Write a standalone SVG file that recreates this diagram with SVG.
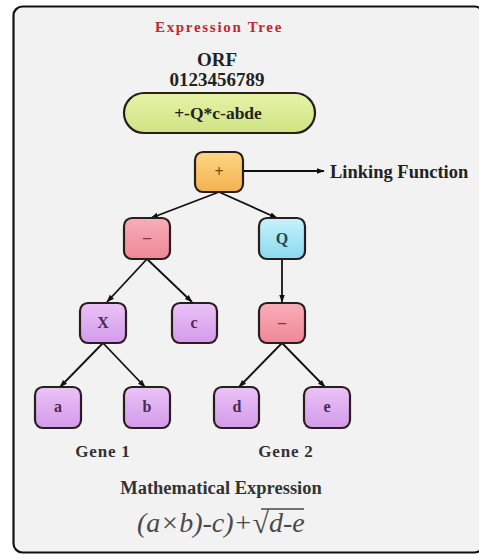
<svg xmlns="http://www.w3.org/2000/svg" width="479" height="560" viewBox="0 0 479 560">
<defs>
<linearGradient id="gOr" x1="0" y1="0" x2="0" y2="1"><stop offset="0" stop-color="#fcd685"/><stop offset="1" stop-color="#f4b24e"/></linearGradient>
<linearGradient id="gPk" x1="0" y1="0" x2="0" y2="1"><stop offset="0" stop-color="#f8aeb8"/><stop offset="1" stop-color="#ef8797"/></linearGradient>
<linearGradient id="gBl" x1="0" y1="0" x2="0" y2="1"><stop offset="0" stop-color="#c6f3fc"/><stop offset="1" stop-color="#8ad9ee"/></linearGradient>
<linearGradient id="gPu" x1="0" y1="0" x2="0" y2="1"><stop offset="0" stop-color="#ebc3f8"/><stop offset="1" stop-color="#d39ae9"/></linearGradient>
<linearGradient id="gGr" x1="0" y1="0" x2="0" y2="1"><stop offset="0" stop-color="#e6f3a8"/><stop offset="1" stop-color="#cfe383"/></linearGradient>
<marker id="arr" viewBox="0 0 10 10" refX="9" refY="5" markerWidth="8" markerHeight="8" markerUnits="userSpaceOnUse" orient="auto"><path d="M0,1.5 L10,5 L0,8.5 Z" fill="#111"/></marker>
</defs>
<style>
.t{font-family:"Liberation Serif","Times New Roman",serif;font-weight:bold;text-anchor:middle;fill:#222}
.n{stroke:#2b1d1d;stroke-width:2.2}
.nt{font-family:"Liberation Serif","Times New Roman",serif;font-weight:bold;font-size:16px;text-anchor:middle;fill:#4a2a55}
.c{stroke:#111;stroke-width:1.8;fill:none;marker-end:url(#arr)}
.f{font-family:"Liberation Serif","Times New Roman",serif;font-style:italic;font-size:28px;fill:#4a4a4a}
</style>
<rect width="479" height="560" fill="#ffffff"/>
<rect x="13.5" y="6.5" width="470" height="546" rx="9" fill="#f2f2f2" stroke="#111" stroke-width="2.2"/>
<text class="t" x="219" y="32" font-size="15" letter-spacing="1.7" style="fill:#c3272e">Expression Tree</text>
<text class="t" x="217" y="66" font-size="19">ORF</text>
<text class="t" x="217" y="86" font-size="19">0123456789</text>
<g id="orf"><rect x="124" y="93" width="191" height="40" rx="20" fill="url(#gGr)" class="n"/><text class="t" x="218" y="119" font-size="17.5">+-Q*c-abde</text></g>
<g id="connectors">
<line class="c" x1="243" y1="171" x2="324" y2="171"/>
<line class="c" x1="219" y1="192" x2="151" y2="218"/>
<line class="c" x1="219" y1="192" x2="277" y2="218"/>
<line class="c" x1="147" y1="259" x2="107" y2="302"/>
<line class="c" x1="147" y1="259" x2="192" y2="302"/>
<line class="c" x1="282" y1="259" x2="282" y2="302"/>
<line class="c" x1="103" y1="343" x2="60" y2="387"/>
<line class="c" x1="103" y1="343" x2="145" y2="387"/>
<line class="c" x1="282" y1="343" x2="239" y2="387"/>
<line class="c" x1="282" y1="343" x2="325" y2="387"/>
</g>
<g id="plus"><rect x="195" y="152" width="48" height="40" rx="8" fill="url(#gOr)" class="n"/><text class="nt" x="219" y="177" style="fill:#6a4a10">+</text></g>
<text class="t" x="330" y="178" font-size="18.5" style="text-anchor:start">Linking Function</text>
<g id="minus1"><rect x="124" y="218" width="46" height="41" rx="8" fill="url(#gPk)" class="n"/><text class="nt" x="147" y="243" style="fill:#7a3a40">–</text></g>
<g id="q"><rect x="259" y="218" width="46" height="41" rx="8" fill="url(#gBl)" class="n"/><text class="nt" x="282" y="244" style="fill:#1d4a55">Q</text></g>
<g id="x"><rect x="80" y="303" width="46" height="40" rx="8" fill="url(#gPu)" class="n"/><text class="nt" x="103" y="328">X</text></g>
<g id="c"><rect x="172" y="303" width="45" height="40" rx="8" fill="url(#gPu)" class="n"/><text class="nt" x="194" y="328">c</text></g>
<g id="minus2"><rect x="259" y="303" width="46" height="40" rx="8" fill="url(#gPk)" class="n"/><text class="nt" x="282" y="328" style="fill:#7a3a40">–</text></g>
<g id="a"><rect x="35" y="387" width="46" height="41" rx="8" fill="url(#gPu)" class="n"/><text class="nt" x="58" y="412">a</text></g>
<g id="b"><rect x="124" y="387" width="46" height="41" rx="8" fill="url(#gPu)" class="n"/><text class="nt" x="147" y="412">b</text></g>
<g id="d"><rect x="214" y="387" width="45" height="41" rx="8" fill="url(#gPu)" class="n"/><text class="nt" x="237" y="412">d</text></g>
<g id="e"><rect x="304" y="387" width="46" height="41" rx="8" fill="url(#gPu)" class="n"/><text class="nt" x="327" y="412">e</text></g>
<text class="t" x="103" y="457" font-size="17" letter-spacing="0.8" style="fill:#333">Gene 1</text>
<text class="t" x="286" y="457" font-size="17" letter-spacing="0.8" style="fill:#333">Gene 2</text>
<text class="t" x="221" y="494" font-size="18.5" style="fill:#333">Mathematical Expression</text>
<text class="f" x="137" y="532">(a×b)-c)+<tspan style="font-style:normal" font-size="30" dy="1">√</tspan><tspan dy="-1">d-e</tspan></text>
<line x1="261" y1="509" x2="304" y2="509" stroke="#4a4a4a" stroke-width="1.6"/>
</svg>
